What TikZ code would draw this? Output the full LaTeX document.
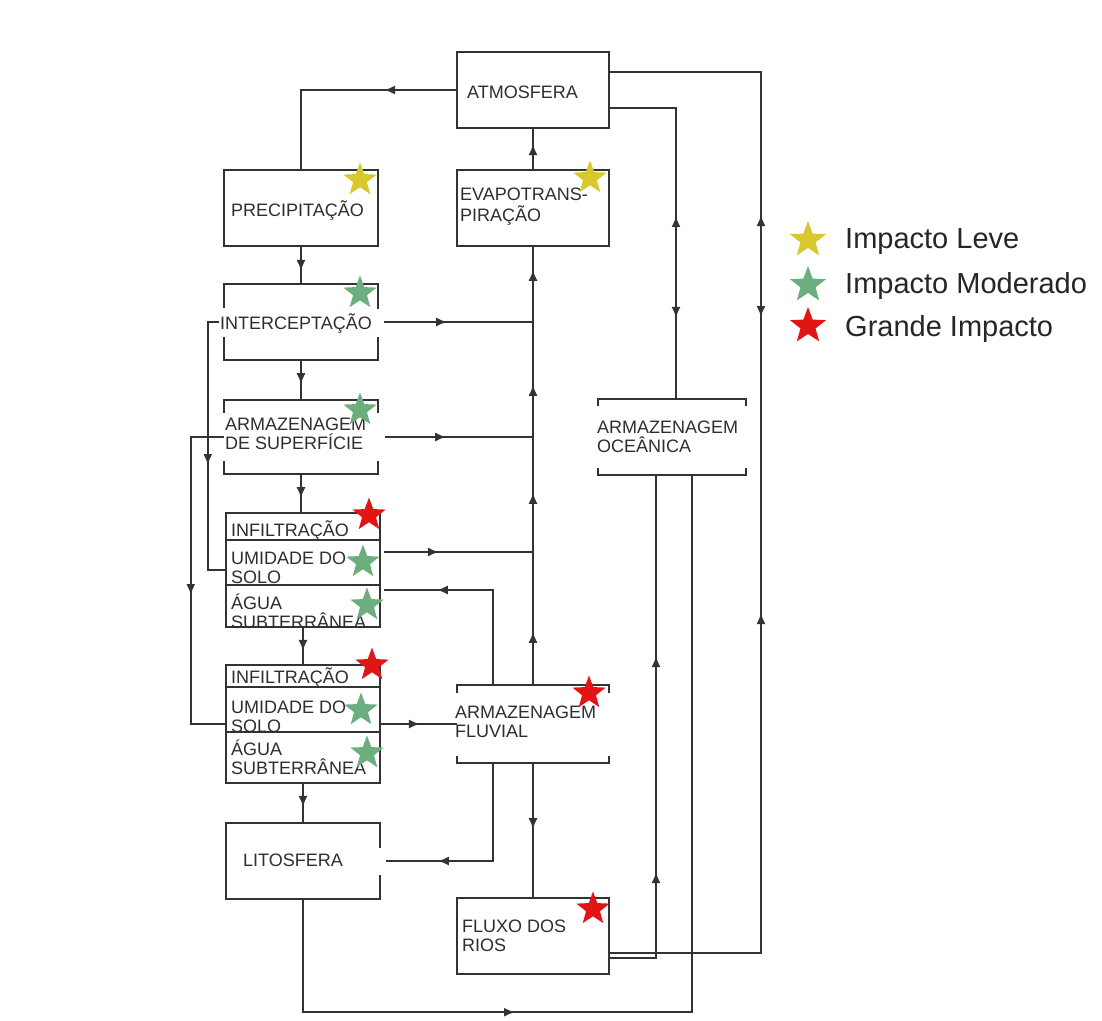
\documentclass[tikz,border=0pt]{standalone}
\usepackage{fontspec}
\setmainfont{Liberation Sans}
\usetikzlibrary{shapes.geometric,arrows.meta,decorations.markings}
\definecolor{ln}{HTML}{333333}
\definecolor{txt}{HTML}{2E2E2E}
\definecolor{sy}{HTML}{D8C82E}
\definecolor{sg}{HTML}{6CAE7E}
\definecolor{sr}{HTML}{E21414}
\tikzset{
  conn/.style={draw=ln, line width=1.9pt},
  fw/.style={postaction={decorate,decoration={markings,mark=at position #1 with {\arrow{Latex[length=11pt,width=9pt]}}}}},
  bw/.style={postaction={decorate,decoration={markings,mark=at position #1 with {\arrowreversed{Latex[length=11pt,width=9pt]}}}}},
  box/.style={draw=ln, line width=1.9pt, fill=white, inner sep=0pt},
  openbox/.style={draw=none, inner sep=0pt},
  lbl/.style={font=\fontsize{18}{19}\selectfont, text=txt, anchor=base west, inner sep=0pt},
  leg/.style={font=\fontsize{29}{32}\selectfont, text=black!85, anchor=base west, inner sep=0pt},
  impstar/.style={star, star points=5, star point ratio=2.4, minimum size=35pt, inner sep=0pt, draw=none},
}
\begin{document}
\begin{tikzpicture}[x=1pt,y=-1pt]
\fill[white] (0,0) rectangle (1102,1020);
\useasboundingbox (0,0) rectangle (1102,1020);

% boxes
\node[box, minimum width=152pt, minimum height=76pt] (atm) at (533,90) {};
\node[box, minimum width=154pt, minimum height=76pt] (prec) at (301,208) {};
\node[box, minimum width=152pt, minimum height=76pt] (evap) at (533,208) {};
\node[openbox, minimum width=154pt, minimum height=76pt] (interc) at (301,322) {};
\node[openbox, minimum width=154pt, minimum height=74pt] (armsup) at (301,437) {};
\node[box, minimum width=154pt, minimum height=114pt] (solo1) at (303,570) {};
\node[box, minimum width=154pt, minimum height=118pt] (solo2) at (303,724) {};
\node[openbox, minimum width=152pt, minimum height=78pt] (fluv) at (533,724) {};
\node[openbox, minimum width=148pt, minimum height=76pt] (ocean) at (672,437) {};
\node[openbox, minimum width=154pt, minimum height=76pt] (lito) at (303,861) {};
\node[box, minimum width=152pt, minimum height=76pt] (fluxo) at (533,936) {};

% bracket-style boxes
\draw[conn] ([yshift=-24pt]interc.north west) -- (interc.north west) -- (interc.north east) -- ([yshift=-25pt]interc.north east);
\draw[conn] ([yshift=23pt]interc.south west) -- (interc.south west) -- (interc.south east) -- ([yshift=23pt]interc.south east);
\draw[conn] ([yshift=-13pt]armsup.north west) -- (armsup.north west) -- (armsup.north east) -- ([yshift=-13pt]armsup.north east);
\draw[conn] ([yshift=13pt]armsup.south west) -- (armsup.south west) -- (armsup.south east) -- ([yshift=13pt]armsup.south east);
\draw[conn] ([yshift=-8pt]fluv.north west) -- (fluv.north west) -- (fluv.north east) -- ([yshift=-8pt]fluv.north east);
\draw[conn] ([yshift=7pt]fluv.south west) -- (fluv.south west) -- (fluv.south east) -- ([yshift=7pt]fluv.south east);
\draw[conn] ([yshift=-7pt]ocean.north west) -- (ocean.north west) -- (ocean.north east) -- ([yshift=-7pt]ocean.north east);
\draw[conn] ([yshift=7pt]ocean.south west) -- (ocean.south west) -- (ocean.south east) -- ([yshift=7pt]ocean.south east);
\draw[conn] ([yshift=-25pt]lito.north east) -- (lito.north east) -- (lito.north west) -- (lito.south west) -- (lito.south east) -- ([yshift=24pt]lito.south east);

% dividers in soil groups
\draw[conn] ([yshift=-28pt]solo1.north west) -- ([yshift=-28pt]solo1.north east);
\draw[conn] ([yshift=-73pt]solo1.north west) -- ([yshift=-73pt]solo1.north east);
\draw[conn] ([yshift=-23pt]solo2.north west) -- ([yshift=-23pt]solo2.north east);
\draw[conn] ([yshift=-68pt]solo2.north west) -- ([yshift=-68pt]solo2.north east);

% helper coordinates
\coordinate (u1) at ([shift={(3pt,18pt)}]solo1.east);
\coordinate (g1) at ([shift={(3pt,-20pt)}]solo1.east);
\coordinate (l1) at ([xshift=6pt]lito.east);
\coordinate (fx1) at ([yshift=-22pt]fluxo.east);
\coordinate (fx2) at ([yshift=-17pt]fluxo.east);

% connectors
\draw[conn, fw=72pt] (atm.west) -| (prec.north);
\draw[conn, fw=25pt] (evap.north) -- (atm.south);
\draw[conn, fw=24pt] (prec.south) -- (interc.north);
\draw[conn, fw=24pt] (interc.south) -- (armsup.north);
\draw[conn, fw=24pt] (armsup.south) -- (armsup.south |- solo1.north);
\draw[conn, fw=23pt] (solo1.south) -- (solo2.north);
\draw[conn, fw=23pt] (solo2.south) -- (lito.north);
\draw[conn, fw=53pt, fw=192pt, fw=300pt, fw=415pt] (fluv.north) -- (evap.south);
\draw[conn, fw=63pt] ([xshift=6pt]interc.east) -- (interc.east -| evap.south);
\draw[conn, fw=61pt] ([xshift=7pt]armsup.east) -- (armsup.east -| evap.south);
\draw[conn, fw=55pt] (u1) -- (u1 -| evap.south);
\draw[conn, fw=151pt] ([xshift=-40pt]fluv.north) |- (g1);
\draw[conn, fw=154pt] ([xshift=-5pt]interc.west) -- ++(-11,0) |- (solo1.west);
\draw[conn, fw=191pt] (armsup.west) -- ++(-33,0) |- (solo2.west);
\draw[conn, fw=39pt] (solo2.east) -- (solo2.east -| fluv.west);
\draw[conn, fw=153pt] ([xshift=-40pt]fluv.south) |- (l1);
\draw[conn, fw=66pt] (fluv.south) -- (fluxo.north);
\draw[conn, fw=132pt, fw=348pt] (fx1) -| ([xshift=-16pt]ocean.south);
\draw[conn, fw=325pt] (lito.south) -- ++(0,113) -| ([xshift=20pt]ocean.south);
\draw[conn, bw=174pt, fw=276pt] ([yshift=-18pt]atm.east) -| ([xshift=4pt]ocean.north);
\draw[conn, bw=294pt, fw=396pt, bw=692pt] ([yshift=18pt]atm.east) -- ++(151,0) |- (fx2);

% labels
\node[lbl] (tatm) at (467,98) {ATMOSFERA};
\node[lbl] (tprec) at (231,216.5) {PRECIPITAÇÃO};
\node[lbl] (tevap1) at (460,200) {EVAPOTRANS-};
\node[lbl] (tevap2) at (460,221) {PIRAÇÃO};
\node[lbl] (tint) at (220,329.5) {INTERCEPTAÇÃO};
\node[lbl] (tas1) at (225,430.5) {ARMAZENAGEM};
\node[lbl] (tas2) at (225,449.5) {DE SUPERFÍCIE};
\node[lbl] (ti1) at (231,536) {INFILTRAÇÃO};
\node[lbl] (tu1a) at (231,564.5) {UMIDADE DO};
\node[lbl] (tu1b) at (231,583.5) {SOLO};
\node[lbl] (ta1a) at (231,609.5) {ÁGUA};
\node[lbl] (ta1b) at (231,628.5) {SUBTERRÂNEA};
\node[lbl] (ti2) at (231,683) {INFILTRAÇÃO};
\node[lbl] (tu2a) at (231,713) {UMIDADE DO};
\node[lbl] (tu2b) at (231,732) {SOLO};
\node[lbl] (ta2a) at (231,755.5) {ÁGUA};
\node[lbl] (ta2b) at (231,774.5) {SUBTERRÂNEA};
\node[lbl] (tf1) at (455,718) {ARMAZENAGEM};
\node[lbl] (tf2) at (455,737) {FLUVIAL};
\node[lbl] (to1) at (597,433) {ARMAZENAGEM};
\node[lbl] (to2) at (597,452) {OCEÂNICA};
\node[lbl] (tlito) at (243,866) {LITOSFERA};
\node[lbl] (tfx1) at (462,932) {FLUXO DOS};
\node[lbl] (tfx2) at (462,951) {RIOS};

% impact stars
\node[impstar, fill=sy] (s1) at (360,180) {};
\node[impstar, fill=sy] (s2) at (590,178) {};
\node[impstar, fill=sg] (s3) at (360,293) {};
\node[impstar, fill=sg] (s4) at (360,410) {};
\node[impstar, fill=sr] (s5) at (369,515) {};
\node[impstar, fill=sg] (s6) at (363,562) {};
\node[impstar, fill=sg] (s7) at (367,605) {};
\node[impstar, fill=sr] (s8) at (372,665) {};
\node[impstar, fill=sg] (s9) at (361,710) {};
\node[impstar, fill=sg] (s10) at (367,753) {};
\node[impstar, fill=sr] (s11) at (589,693) {};
\node[impstar, fill=sr] (s12) at (593,909) {};

% legend
\node[impstar, fill=sy, minimum size=38pt] (ls1) at (808,240) {};
\node[impstar, fill=sg, minimum size=38pt] (ls2) at (808,285) {};
\node[impstar, fill=sr, minimum size=38pt] (ls3) at (808,326) {};
\node[leg] (lt1) at (845,248) {Impacto Leve};
\node[leg] (lt2) at (845,293) {Impacto Moderado};
\node[leg] (lt3) at (845,336) {Grande Impacto};
\end{tikzpicture}
\end{document}
